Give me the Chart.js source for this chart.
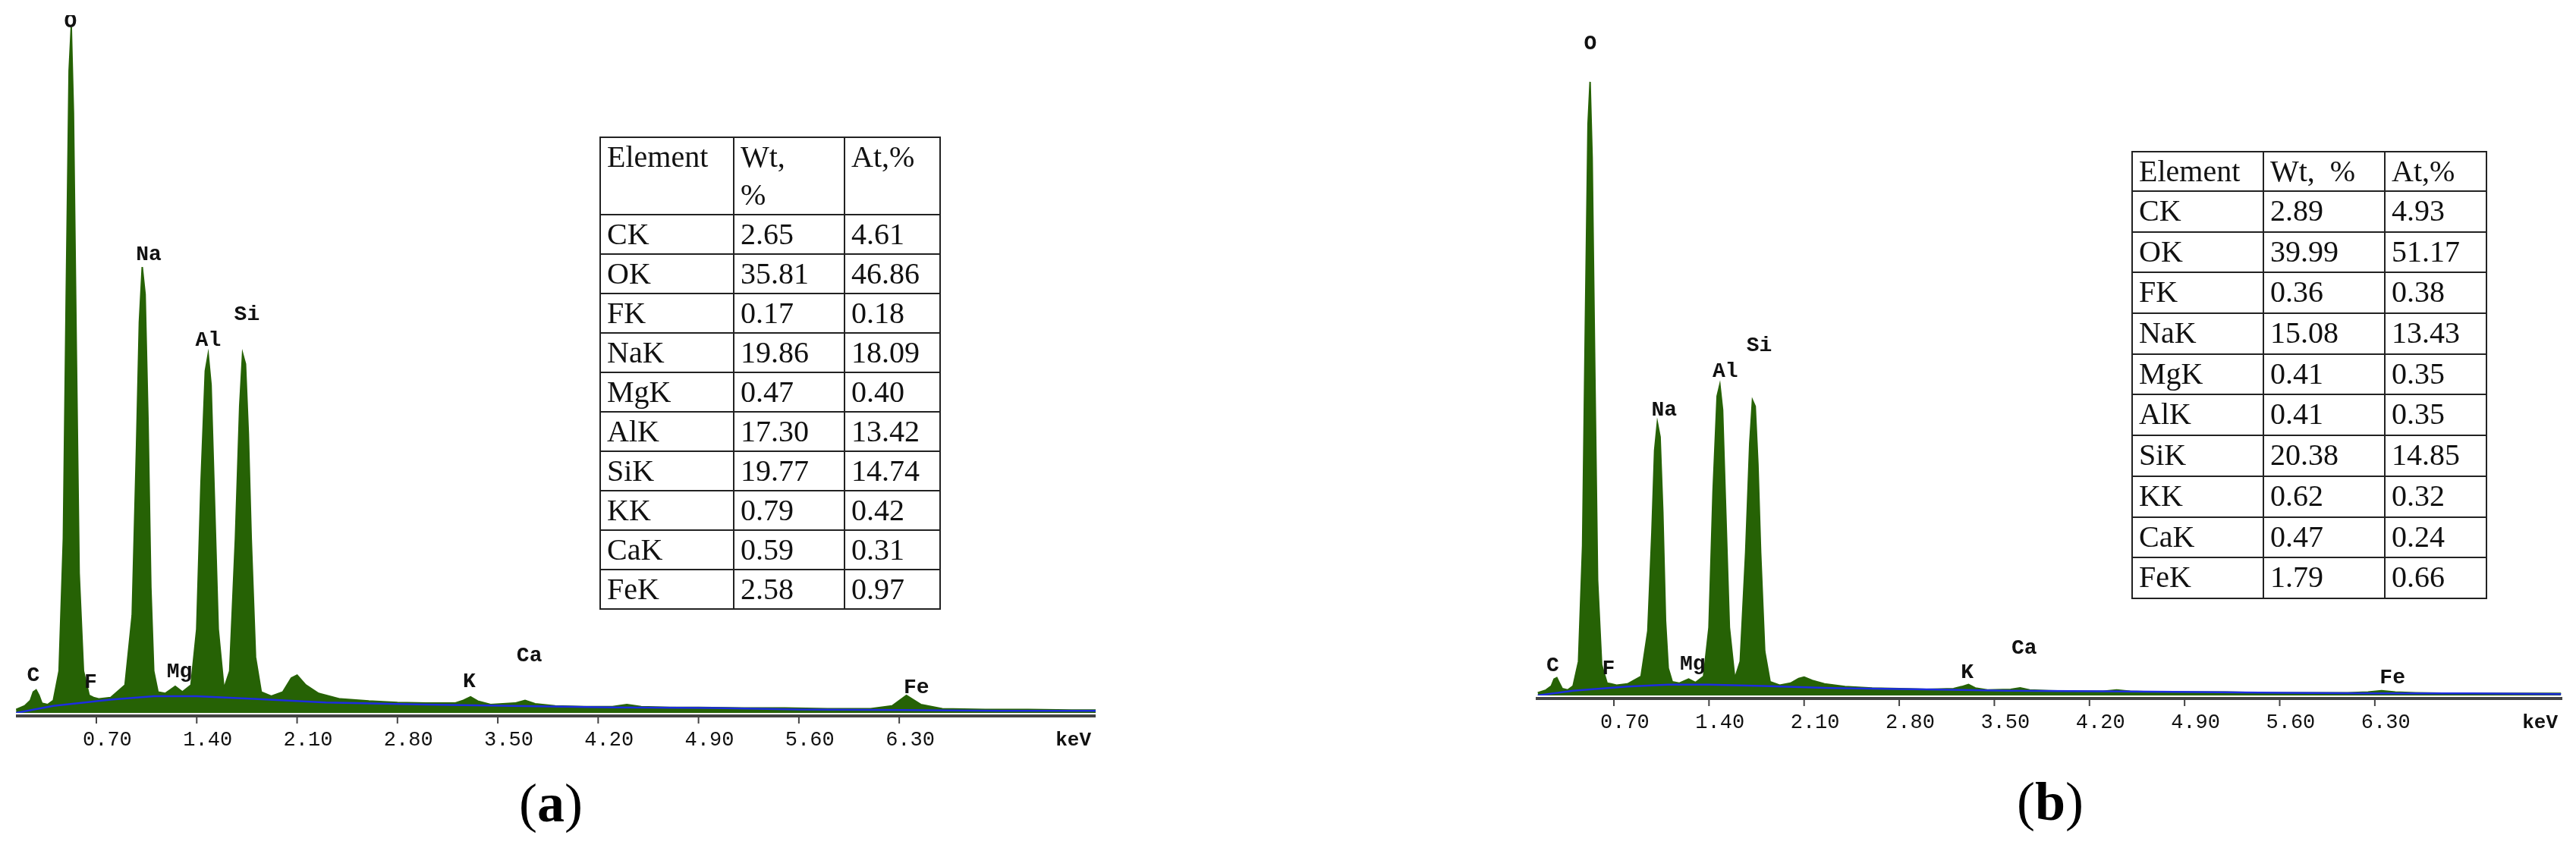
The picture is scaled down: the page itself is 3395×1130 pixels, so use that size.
<!DOCTYPE html>
<html>
<head>
<meta charset="utf-8">
<script src="https://cdn.jsdelivr.net/npm/chart.js@4.4.1/dist/chart.umd.min.js"></script>
<style>
  body { margin: 0; width: 3395px; height: 1130px; background: #fff; position: relative; overflow: hidden; }
  .panel { position: absolute; }
  table { position: absolute; border-collapse: collapse; font-family: "Liberation Serif", serif; font-size: 40px; color: #111; }
  td { border: 2px solid #222; padding: 0 0 0 8px; vertical-align: top; line-height: 50px; white-space: nowrap; }
  .cap { position: absolute; font-family: "Liberation Serif", serif; font-size: 72px; transform: translateX(-50%); }
  .cap b { font-weight: bold; }
</style>
</head>
<body>
<canvas id="chartA" class="panel" style="left:21px;top:20px;"></canvas>
<canvas id="chartB" class="panel" style="left:2024px;top:20px;"></canvas>
<table id="tableA" style="left:790px;top:180px;"></table>
<table id="tableB" style="left:2809px;top:199px;"></table>
<div class="cap" style="left:726px;top:1018px;">(<b>a</b>)</div>
<div class="cap" style="left:2702px;top:1016px;">(<b>b</b>)</div>
<script>
const ENERGY = [0.14,0.20,0.24,0.26,0.28,0.30,0.32,0.36,0.40,0.44,0.47,0.49,0.51,0.525,0.54,0.56,0.58,0.61,0.65,0.68,
  0.72,0.80,0.90,0.95,0.98,1.00,1.02,1.04,1.06,1.08,1.10,1.13,1.18,1.25,1.30,1.36,1.40,1.43,1.46,1.48,
  1.50,1.52,1.55,1.59,1.63,1.67,1.70,1.72,1.74,1.76,1.78,1.81,1.85,1.92,2.00,2.06,2.10,2.16,2.25,2.40,
  2.60,2.80,3.00,3.20,3.26,3.31,3.36,3.45,3.62,3.69,3.76,3.90,4.10,4.30,4.40,4.50,4.70,4.90,5.20,5.50,
  5.80,6.10,6.25,6.35,6.45,6.60,6.90,7.20,7.50,7.67];

const COUNTS_A = [5,10,18,30,33,25,14,12,18,60,250,600,920,983,860,520,200,60,25,22,
  20,22,40,140,380,560,639,600,420,180,60,30,28,38,30,40,120,330,490,514,
  470,330,120,35,60,250,440,515,500,400,250,80,30,24,30,50,54,40,28,20,
  17,15,14,14,18,23,17,12,14,18,13,10,9,9,12,9,8,8,7,7,
  6,6,10,25,12,6,5,5,4,4];

const COUNTS_B = [4,8,14,24,26,18,10,8,14,50,220,540,840,902,790,470,170,45,18,17,
  15,17,28,95,240,360,401,380,270,110,40,20,18,24,19,28,100,300,440,457,
  420,290,100,25,50,210,370,434,425,340,210,65,20,15,18,25,27,22,17,13,
  11,10,9,10,13,16,11,8,9,11,8,7,6,6,8,6,5,5,5,4,
  4,4,5,7,5,4,3,3,3,3];

const BG_ENERGY = [0.14,0.4,0.8,1.1,1.4,1.8,2.3,3.0,3.6,4.3,5.0,5.6,6.3,7.0,7.67];
const BG_A = [0,10,19,24,24,20,15,12,10,8,7,5,4,3,3];
const BG_B = [0,7,13,16,16,14,11,9,7,6,5,4,3,3,2];

const TICKS = [0.70,1.40,2.10,2.80,3.50,4.20,4.90,5.60,6.30];

const PEAK_NAMES = ["C","O","F","Na","Mg","Al","Si","K","Ca","Fe"];
const PEAK_X_A = [0.26,0.52,0.66,1.065,1.28,1.48,1.75,3.30,3.72,6.42];
const PEAK_Y_A = [53,990,43,657,59,534,571,45,82,36];
const PEAK_X_B = [0.25,0.527,0.66,1.07,1.28,1.52,1.77,3.30,3.72,6.43];
const PEAK_Y_B = [43,958,39,419,46,476,514,33,69,26];

const ROWS = ["CK","OK","FK","NaK","MgK","AlK","SiK","KK","CaK","FeK"];
const WT_A = ["2.65","35.81","0.17","19.86","0.47","17.30","19.77","0.79","0.59","2.58"];
const AT_A = ["4.61","46.86","0.18","18.09","0.40","13.42","14.74","0.42","0.31","0.97"];
const WT_B = ["2.89","39.99","0.36","15.08","0.41","0.41","20.38","0.62","0.47","1.79"];
const AT_B = ["4.93","51.17","0.38","13.43","0.35","0.35","14.85","0.32","0.24","0.66"];

function buildTable(id, header, wt, at, widths, headH, rowH) {
  const cols = widths.map((w) => `<col style="width:${w}px">`).join("");
  const head = `<tr style="height:${headH}px">${header.map((h) => `<td>${h}</td>`).join("")}</tr>`;
  const body = ROWS.map((r, i) => `<tr style="height:${rowH}px"><td>${r}</td><td>${wt[i]}</td><td>${at[i]}</td></tr>`).join("");
  const t = document.getElementById(id);
  t.style.width = widths.reduce((a, b) => a + b, 0) + "px";
  t.style.tableLayout = "fixed";
  t.innerHTML = cols + head + body;
}

const spectrumDecor = {
  id: "spectrumDecor",
  afterDatasetsDraw(chart, args, opts) {
    const { ctx, chartArea } = chart;
    const x = chart.scales.x;
    const y = chart.scales.y;
    ctx.save();
    // axis line + ticks
    const base = chartArea.bottom + 4;
    ctx.strokeStyle = "#444";
    ctx.lineWidth = 4;
    ctx.beginPath();
    ctx.moveTo(chartArea.left, base);
    ctx.lineTo(chartArea.right, base);
    ctx.stroke();
    ctx.lineWidth = 2;
    ctx.fillStyle = "#111";
    ctx.font = "27px 'Liberation Mono', monospace";
    ctx.textAlign = "left";
    ctx.textBaseline = "middle";
    TICKS.forEach((t) => {
      const px = x.getPixelForValue(t);
      ctx.beginPath();
      ctx.moveTo(px, base);
      ctx.lineTo(px, base + 10);
      ctx.stroke();
      ctx.fillText(t.toFixed(2), px - 18, base + 32);
    });
    ctx.font = "bold 26px 'Liberation Mono', monospace";
    ctx.textAlign = "right";
    ctx.fillText("keV", chartArea.right - 6, base + 32);
    // peak labels
    ctx.textAlign = "center";
    ctx.font = "bold 28px 'Liberation Mono', monospace";
    PEAK_NAMES.forEach((n, i) => {
      ctx.fillText(n, x.getPixelForValue(opts.px[i]), y.getPixelForValue(opts.py[i]));
    });
    ctx.restore();
  },
};

function renderSpectrum(canvasId, counts, bg, xmin, xmax, w, h, px, py) {
  const canvas = document.getElementById(canvasId);
  canvas.style.width = w + "px";
  canvas.style.height = (h + 60) + "px";
  new Chart(canvas, {
    type: "line",
    data: {
      datasets: [
        {
          data: bg.map((v, i) => ({ x: BG_ENERGY[i], y: v })),
          borderColor: "#1d2de0",
          borderWidth: 2.5,
          pointRadius: 0,
          fill: false,
          order: 0,
        },
        {
          data: counts.map((v, i) => ({ x: ENERGY[i], y: v })),
          borderColor: "#266205",
          backgroundColor: "#266205",
          borderWidth: 2,
          pointRadius: 0,
          tension: 0,
          fill: "origin",
          order: 1,
        },
      ],
    },
    options: {
      responsive: false,
      animation: false,
      devicePixelRatio: 1,
      layout: { padding: { top: 0, bottom: 60, left: 0, right: 0 } },
      scales: {
        x: { type: "linear", min: xmin, max: xmax, display: false },
        y: { min: 0, max: 1000, display: false },
      },
      plugins: { legend: { display: false }, tooltip: { enabled: false }, spectrumDecor: { px, py } },
    },
    plugins: [spectrumDecor],
  });
}

function sizeCanvas(id, w, h) {
  const c = document.getElementById(id);
  c.width = w;
  c.height = h + 60;
}

sizeCanvas("chartA", 1423, 920);
sizeCanvas("chartB", 1353, 897);
renderSpectrum("chartA", COUNTS_A, BG_A, 0.139, 7.67, 1423, 920, PEAK_X_A, PEAK_Y_A);
renderSpectrum("chartB", COUNTS_B, BG_B, 0.125, 7.68, 1353, 897, PEAK_X_B, PEAK_Y_B);

buildTable("tableA", ["Element", "Wt,<br>%", "At,%"], WT_A, AT_A, [176, 146, 126], 101, 52);
buildTable("tableB", ["Element", "Wt,&nbsp; %", "At,%"], WT_B, AT_B, [173, 160, 134], 52, 53.7);
</script>
</body>
</html>
